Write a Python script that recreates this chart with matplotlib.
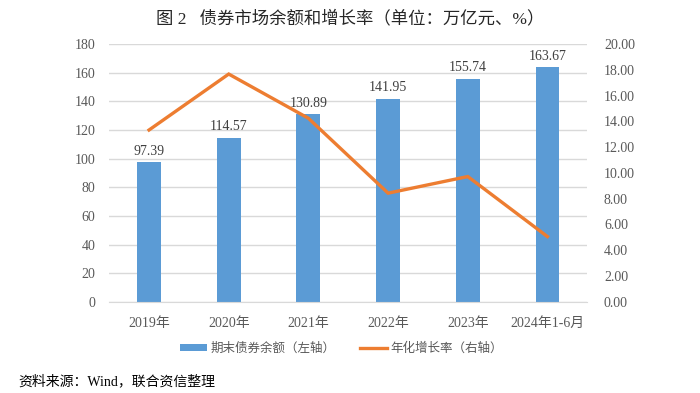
import matplotlib
matplotlib.use("Agg")
from matplotlib import pyplot
from matplotlib.patches import Patch
from matplotlib.lines import Line2D

# data
categories = ["2019年", "2020年", "2021年", "2022年", "2023年", "2024年1-6月"]
balance = [97.39, 114.57, 130.89, 141.95, 155.74, 163.67]
growth = [13.33, 17.67, 14.24, 8.43, 9.72, 5.06]

bar_color = "#5B9BD5"
line_color = "#ED7D31"
grey = "#595959"
fam = ["Liberation Serif", "Noto Sans CJK SC"]

pyplot.rcParams["font.family"] = fam

fig = pyplot.figure(figsize=(7.0, 3.93), dpi=100)
ax = fig.add_axes([0.156, 0.232, 0.683, 0.656])
ax2 = ax.twinx()

x = list(range(len(categories)))
bars = ax.bar(x, balance, width=0.3, color=bar_color, zorder=2)
ax2.plot(x, growth, color=line_color, lw=2.4, solid_joinstyle="miter", zorder=3)

for xi, v in zip(x, balance):
    ax.text(xi, v + 3, f"{v:.2f}", ha="center", va="bottom", fontsize=10,
            color="#404040", family=fam)

ax.set_xlim(-0.5, len(categories) - 0.5)
ax.set_ylim(0, 180)
ax.set_yticks(range(0, 181, 20))
ax2.set_ylim(0, 20)
ax2.set_yticks(range(0, 21, 2))
ax2.set_yticklabels([f"{v:.2f}" for v in range(0, 21, 2)])

ax.grid(axis="y", color="#D9D9D9", lw=1.0, zorder=0)
ax.set_axisbelow(True)
for a in (ax, ax2):
    for s in a.spines.values():
        s.set_visible(False)
    a.tick_params(length=0, colors=grey, labelsize=10)
ax.spines["bottom"].set_visible(True)
ax.spines["bottom"].set_color("#D9D9D9")
ax.set_xticks(x)
ax.set_xticklabels(categories)
ax.tick_params(axis="y", pad=10)
ax2.tick_params(axis="y", pad=12)
ax.tick_params(axis="x", pad=11)

handles = [
    Patch(facecolor=bar_color, label="期末债券余额（左轴）"),
    Line2D([0], [0], color=line_color, lw=2.4, label="年化增长率（右轴）"),
]
fig.legend(handles=handles, loc="center", bbox_to_anchor=(0.488, 0.114), ncol=2,
           frameon=False, labelcolor=grey, handlelength=2.1,
           handleheight=0.5, columnspacing=2.0, handletextpad=0.3,
           prop={"family": ["Noto Sans CJK SC"], "size": 9})

fig.text(0.5, 0.952, "图 2   债券市场余额和增长率（单位：万亿元、%）", ha="center", va="center",
         fontsize=12.5, color="#262626", family=fam)
fig.text(0.026, 0.03, "资料来源：Wind，联合资信整理", ha="left", va="center",
         fontsize=10, color="#000000", family=fam)

fig.savefig("out.png", dpi=100)
